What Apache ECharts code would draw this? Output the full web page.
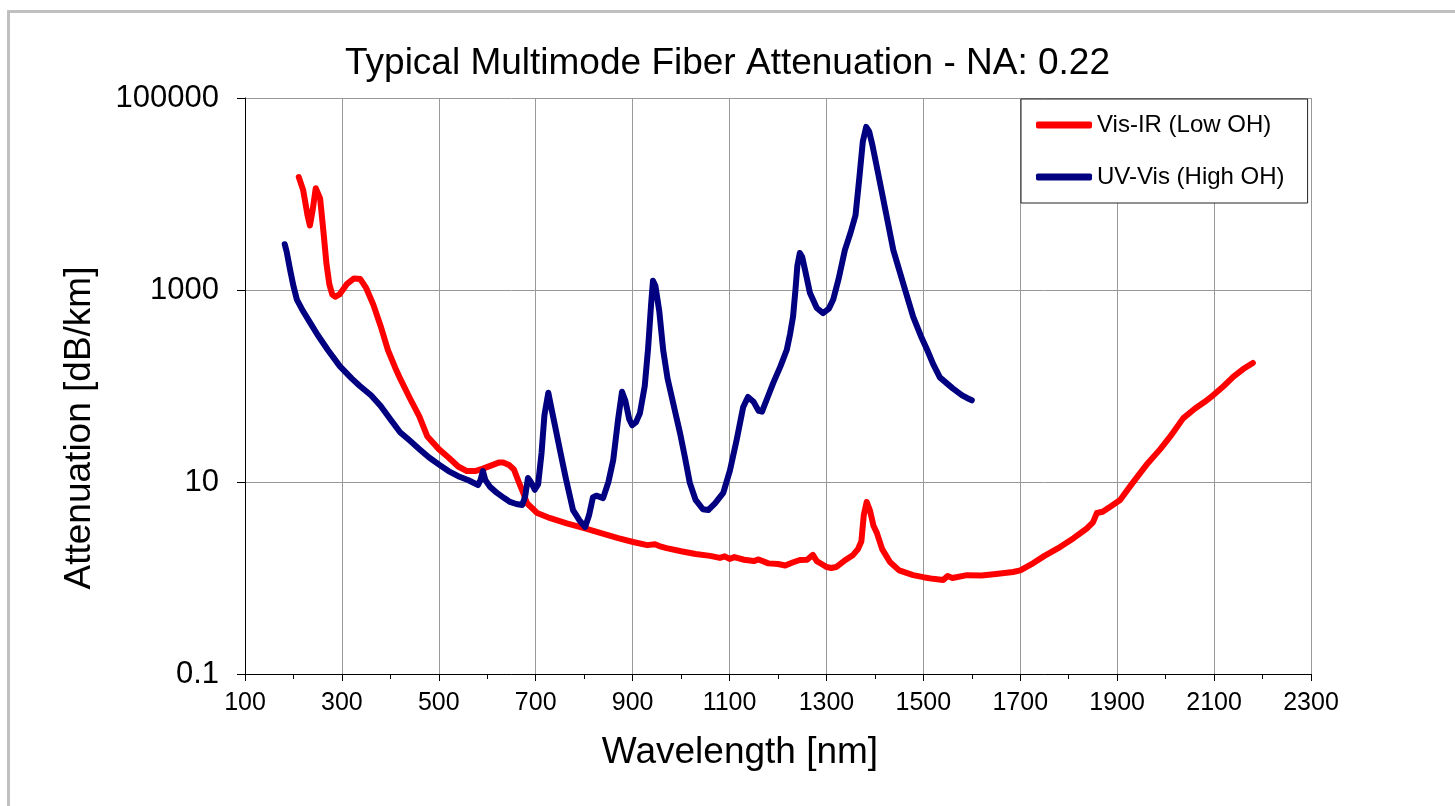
<!DOCTYPE html>
<html>
<head>
<meta charset="utf-8">
<script src="https://cdn.jsdelivr.net/npm/echarts@6/dist/echarts.min.js"></script>
<style>
html,body{margin:0;padding:0;background:#fff;}
#chart{width:1455px;height:806px;}
</style>
</head>
<body>
<div id="chart"></div>
<script>
// ---- data ----
const chartTitle = 'Typical Multimode Fiber Attenuation - NA: 0.22';
const xAxisTitle = 'Wavelength [nm]';
const yAxisTitle = 'Attenuation [dB/km]';
const seriesNames = ['Vis-IR (Low OH)', 'UV-Vis (High OH)'];

const visIrWavelength = [211,220,229,234,240,246,250,255,262,268,274,280,286,295,310,325,338,350,365,380,395,410,420,440,460,476,500,520,540,558,575,591,610,625,633,645,655,665,675,682,695,703,730,764,800,833,870,901,930,946,955,970,1000,1030,1060,1080,1090,1100,1110,1130,1150,1160,1180,1200,1215,1230,1245,1260,1272,1280,1290,1300,1310,1320,1340,1355,1365,1372,1377,1383,1390,1397,1404,1415,1431,1450,1479,1500,1520,1541,1550,1560,1590,1620,1650,1685,1700,1727,1750,1782,1810,1838,1850,1858,1870,1885,1906,1930,1960,1989,2010,2036,2060,2080,2098,2120,2140,2160,2180];
const visIrAttenuation = [15000,11000,6000,4700,7000,11500,12000,9000,4000,1900,1150,900,850,900,1150,1320,1300,1050,700,420,237,155,120,75,48,30,22,18,14.5,13,13,13.8,15,16,16,15,13.5,10,7.5,6.0,5.2,4.75,4.2,3.7,3.3,2.95,2.6,2.37,2.2,2.25,2.15,2.05,1.9,1.78,1.7,1.62,1.68,1.58,1.65,1.55,1.5,1.56,1.42,1.4,1.35,1.45,1.54,1.55,1.74,1.5,1.4,1.3,1.27,1.3,1.55,1.74,2.0,2.4,4.5,6.2,5.0,3.5,2.95,2.0,1.47,1.2,1.07,1.02,0.98,0.955,1.05,1.0,1.07,1.06,1.1,1.155,1.2,1.43,1.7,2.1,2.6,3.3,3.8,4.75,4.9,5.5,6.5,9.5,15,22,30,46,58,68,80,100,125,150,174];

const uvVisWavelength = [182,186,193,200,207,220,234,250,271,296,320,337,360,380,400,420,440,460,480,502,520,540,560,581,586,591,596,605,620,635,647,660,672,678,684,690,698,705,712,718,726,732,740,750,762,777,790,802,810,818,825,839,850,860,870,878,885,893,899,907,915,925,932,938,942,947,955,963,972,980,990,998,1008,1018,1030,1045,1056,1070,1087,1101,1115,1128,1138,1150,1160,1167,1178,1190,1205,1218,1225,1231,1236,1240,1245,1250,1256,1266,1280,1293,1305,1314,1325,1338,1350,1360,1368,1375,1382,1388,1395,1405,1420,1438,1460,1479,1495,1508,1520,1534,1560,1580,1590,1600];
const uvVisAttenuation = [3000,2500,1630,1100,795,600,460,340,237,160,120,100,80,62,45,33,27,22,18,15,13,11.5,10.5,9.3,10.5,13,10.5,9,7.7,6.8,6.2,5.9,5.75,7,11,10,8.3,9.5,20,50,85,60,38,21.5,11,5.1,4,3.4,4.5,6.9,7.2,6.8,10,17,45,87,70,45,39,42,52,100,250,700,1250,1100,600,237,120,80,48,32,18,9.8,6.5,5.2,5.1,6,7.7,13.3,28,60,77,68,55,54,75,107,160,237,350,525,1000,1800,2430,2200,1600,930,650,575,640,795,1300,2600,4000,6000,15000,35000,50000,45000,32000,18000,7500,2600,1100,525,330,237,170,123,95,80,75,71];

const xTicks = {min: 100, max: 2300, step: 200};
const yTicks = {min: 0.1, max: 100000};

function pairs(xs, ys) { return xs.map((x, i) => [x, ys[i]]); }

const FONT = "'Liberation Sans', Arial, sans-serif";
const chart = echarts.init(document.getElementById('chart'));
chart.setOption({
  backgroundColor: '#ffffff',
  animation: false,
  textStyle: {fontFamily: FONT, color: '#000'},
  graphic: [{
    type: 'rect', left: 6, top: 9, silent: true, z: -10,
    shape: {x: 0, y: 0, width: 1520, height: 880},
    style: {fill: 'none', stroke: '#c0c0c0', lineWidth: 3}
  }],
  title: {
    text: chartTitle, left: 'center', top: 40,
    textStyle: {fontFamily: FONT, fontSize: 37, fontWeight: 'normal', color: '#000'}
  },
  legend: {
    orient: 'vertical', left: 1021, top: 99,
    backgroundColor: '#fff', borderColor: '#222', borderWidth: 1,
    padding: [14, 23, 14, 15], itemGap: 28,
    itemWidth: 56, itemHeight: 7, icon: 'roundRect',
    textStyle: {fontFamily: FONT, fontSize: 24, color: '#000'},
    data: seriesNames
  },
  grid: {left: 245, right: 144, top: 98, bottom: 132},
  xAxis: {
    type: 'value', min: xTicks.min, max: xTicks.max, interval: xTicks.step,
    name: xAxisTitle, nameLocation: 'middle', nameGap: 60,
    nameTextStyle: {fontFamily: FONT, fontSize: 37, color: '#000', padding: [0, 76, 0, 0]},
    axisLine: {lineStyle: {color: '#000', width: 1}},
    axisTick: {show: true, length: 7, lineStyle: {color: '#000'}},
    minorTick: {show: true, splitNumber: 2, length: 5, lineStyle: {color: '#000'}},
    axisLabel: {fontFamily: FONT, fontSize: 25, color: '#000', margin: 17,
      formatter: v => String(v)},
    splitLine: {show: true, lineStyle: {color: '#999', width: 1}}
  },
  yAxis: {
    type: 'log', logBase: 10, min: yTicks.min, max: yTicks.max, interval: 2,
    name: yAxisTitle, nameLocation: 'middle', nameGap: 147,
    nameTextStyle: {fontFamily: FONT, fontSize: 37, color: '#000', padding: [0, 84, 0, 0]},
    axisLine: {show: true, lineStyle: {color: '#000', width: 1}},
    axisTick: {show: true, length: 8, lineStyle: {color: '#000'}},
    axisLabel: {fontFamily: FONT, fontSize: 31, color: '#000', margin: 26,
      formatter: v => String(+(+v).toPrecision(6))},
    splitLine: {show: true, lineStyle: {color: '#999', width: 1}}
  },
  series: [
    {
      name: seriesNames[0], type: 'line', showSymbol: false, symbol: 'none',
      data: pairs(visIrWavelength, visIrAttenuation),
      itemStyle: {color: '#ff0000'},
      lineStyle: {color: '#ff0000', width: 6, cap: 'round', join: 'round'}
    },
    {
      name: seriesNames[1], type: 'line', showSymbol: false, symbol: 'none',
      data: pairs(uvVisWavelength, uvVisAttenuation),
      itemStyle: {color: '#000080'},
      lineStyle: {color: '#000080', width: 6, cap: 'round', join: 'round'}
    }
  ]
});
</script>
</body>
</html>
